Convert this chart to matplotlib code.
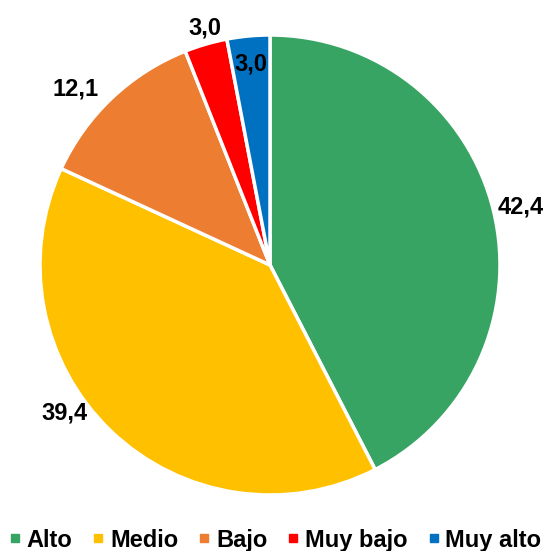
import numpy as np
import matplotlib.pyplot as plt
from matplotlib.lines import Line2D

plt.rcParams["font.family"] = ["Liberation Sans", "DejaVu Sans"]

categories = ["Alto", "Medio", "Bajo", "Muy bajo", "Muy alto"]
values = [42.4, 39.4, 12.1, 3.0, 3.0]
value_labels = ["42,4", "39,4", "12,1", "3,0", "3,0"]
colors = ["#38A463", "#FFC000", "#ED7D31", "#FF0000", "#0070C0"]

# label placement: radius factor and angular nudge (degrees) per slice
label_dist = [1.12, 1.096, 1.148, 1.078, 0.887]
label_shift = [0.0, -10.9, 4.1, -0.9, 0.0]

W, H = 546, 551
fig = plt.figure(figsize=(W / 100, H / 100), dpi=100)
ax = fig.add_axes([0, 0, 1, 1])

cx, cy, r = 270, H - 265, 230
ax.pie(values, colors=colors, startangle=90, counterclock=False,
       center=(cx, cy), radius=r, frame=True,
       wedgeprops=dict(edgecolor="white", linewidth=2.5))
ax.set_xlim(0, W)
ax.set_ylim(0, H)
ax.set_aspect("equal")
ax.axis("off")

total = sum(values)
start = 90.0
for val, txt, d, sh in zip(values, value_labels, label_dist, label_shift):
    span = 360.0 * val / total
    mid = np.deg2rad(start - span / 2 + sh)
    start -= span
    ax.text(cx + d * r * np.cos(mid), cy + d * r * np.sin(mid), txt,
            ha="center", va="center_baseline", fontsize=17, fontweight="bold")

handles = [Line2D([], [], marker="s", linestyle="", markersize=5.5,
                  markerfacecolor=c, markeredgecolor=c) for c in colors]
fig.legend(handles, categories, loc="lower center", ncol=5, frameon=False,
           bbox_to_anchor=(0.505, -0.031), handletextpad=0.3, columnspacing=0.9,
           handlelength=0.4, borderaxespad=0.3,
           prop=dict(size=17, weight="bold"))

fig.savefig("out.png", dpi=100)
